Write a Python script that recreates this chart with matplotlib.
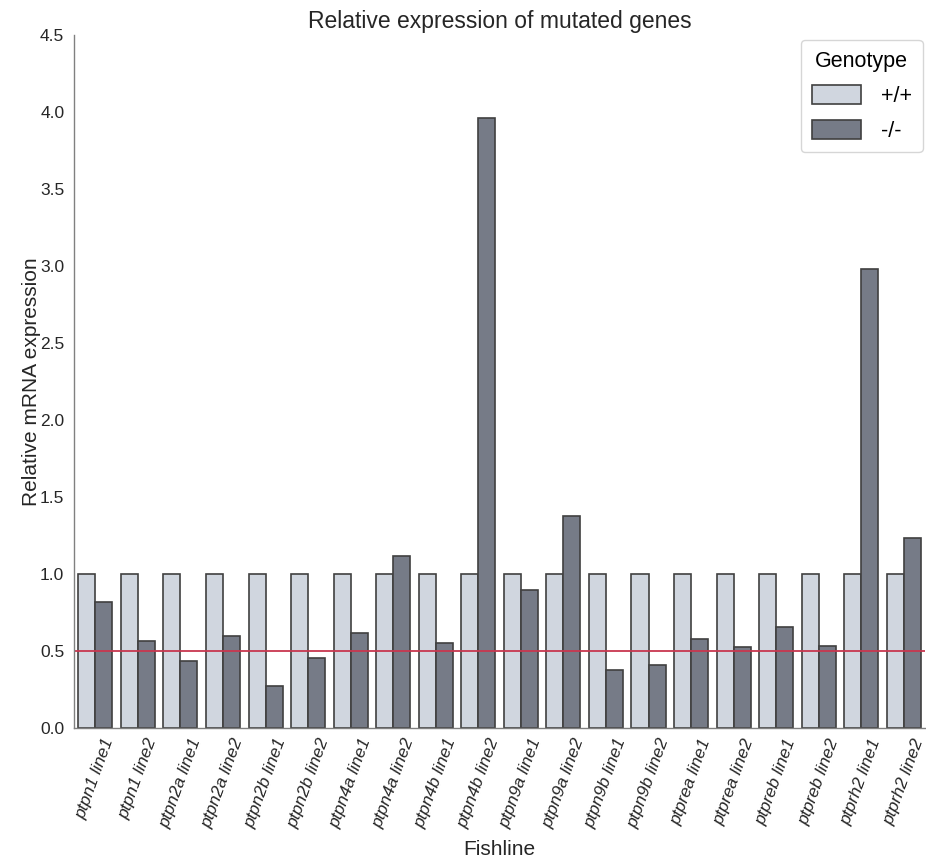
import numpy as np
import matplotlib
matplotlib.use("Agg")
import matplotlib.pyplot as plt

plt.rcParams['font.family'] = ['Liberation Sans', 'DejaVu Sans']

# Data
fishlines = ["ptpn1 line1", "ptpn1 line2", "ptpn2a line1", "ptpn2a line2",
             "ptpn2b line1", "ptpn2b line2", "ptpn4a line1", "ptpn4a line2",
             "ptpn4b line1", "ptpn4b line2", "ptpn9a line1", "ptpn9a line2",
             "ptpn9b line1", "ptpn9b line2", "ptprea line1", "ptprea line2",
             "ptpreb line1", "ptpreb line2", "ptprh2 line1", "ptprh2 line2"]
wildtype = [1.0] * 20
mutant = [0.82, 0.565, 0.435, 0.60, 0.27, 0.455, 0.617, 1.12, 0.55, 3.96,
          0.898, 1.375, 0.377, 0.41, 0.58, 0.524, 0.654, 0.532, 2.98, 1.234]
genotypes = ["+/+", "-/-"]
threshold = 0.5

fig = plt.figure(figsize=(9.26, 8.58), dpi=100)
ax = fig.add_axes([0.08, 0.1515, 0.919, 0.8075])

x = np.arange(len(fishlines))
w = 0.4
ax.bar(x - w / 2, wildtype, width=w, color="#d0d6df", edgecolor="#404040",
       linewidth=1.2, label=genotypes[0])
ax.bar(x + w / 2, mutant, width=w, color="#767b87", edgecolor="#404040",
       linewidth=1.2, label=genotypes[1])
ax.axhline(threshold, color="#c8374f", linewidth=1.3)

ax.set_xlim(-0.5, len(fishlines) - 0.5)
ax.set_ylim(0, 4.5)
ax.set_yticks(np.arange(0, 4.51, 0.5))
ax.set_yticklabels([f"{v:.1f}" for v in np.arange(0, 4.51, 0.5)], fontsize=12.5, color="#262626")
ax.set_xticks(x)
ax.set_xticklabels(fishlines, rotation=70, ha="center", style="italic",
                   fontsize=12.5, color="#262626")
ax.tick_params(length=0)
ax.tick_params(axis="x", pad=6)
ax.tick_params(axis="y", pad=7)

ax.set_xlabel("Fishline", fontsize=15, color="#262626", labelpad=7)
ax.set_ylabel("Relative mRNA expression", fontsize=15, color="#262626", labelpad=-1)
ax.set_title("Relative expression of mutated genes", fontsize=16.5, color="#262626", pad=5)

for s in ["top", "right"]:
    ax.spines[s].set_visible(False)
for s in ["left", "bottom"]:
    ax.spines[s].set_color("#808080")
    ax.spines[s].set_linewidth(1.0)

leg = ax.legend(title="Genotype", fontsize=15.5, title_fontsize=15.5,
                loc="upper right", bbox_to_anchor=(0.997, 0.993), borderaxespad=0,
                frameon=True, handlelength=2.3, handleheight=1.0, labelspacing=0.6,
                borderpad=0.5, handletextpad=0.9)
leg.get_frame().set_edgecolor("#cccccc")

fig.savefig("out.png", dpi=100)
